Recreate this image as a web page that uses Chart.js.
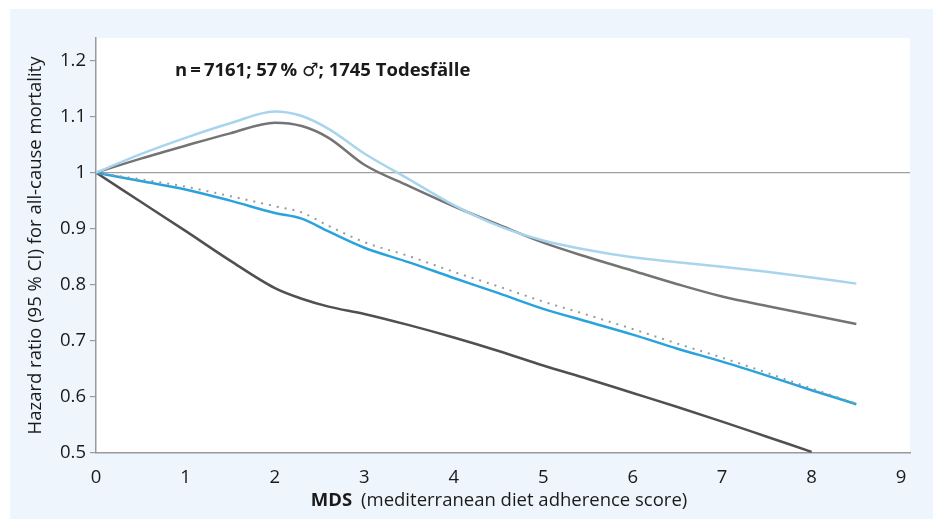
<!DOCTYPE html>
<html>
<head>
<meta charset="utf-8">
<script src="https://cdn.jsdelivr.net/npm/chart.js@4.4.0/dist/chart.umd.min.js"></script>
<style>
  html, body { margin: 0; padding: 0; background: #ffffff; }
  #panel { position: absolute; left: 10px; top: 9px; width: 923px; height: 510px; background: #eef5fc; }
  #chart { display: block; }
</style>
</head>
<body>
<div id="panel"><canvas id="chart" width="923" height="510"></canvas></div>
<script>
// MDS score positions
const mds = [0, 0.5, 1, 1.5, 2, 2.3, 2.6, 3, 3.5, 4, 4.5, 5, 5.5, 6, 6.5, 7, 7.5, 8, 8.5]

// hazard ratios
const upperLight = [1.0, 1.033, 1.062, 1.088, 1.109, 1.101, 1.078, 1.034, 0.988, 0.942, 0.905, 0.879, 0.862, 0.849, 0.84, 0.832, 0.823, 0.813, 0.802]
const upperDark = [1.0, 1.025, 1.048, 1.07, 1.089, 1.083, 1.062, 1.014, 0.976, 0.94, 0.907, 0.875, 0.849, 0.825, 0.801, 0.779, 0.762, 0.746, 0.73]
const estimateDotted = [1.0, 0.988, 0.975, 0.958, 0.94, 0.929, 0.905, 0.876, 0.851, 0.823, 0.797, 0.77, 0.746, 0.721, 0.695, 0.67, 0.643, 0.615, 0.588]
const estimateBlue = [1.0, 0.985, 0.97, 0.95, 0.928, 0.918, 0.895, 0.866, 0.84, 0.812, 0.785, 0.757, 0.734, 0.711, 0.686, 0.663, 0.638, 0.612, 0.587]
const lowerDark = [1.0, 0.948, 0.896, 0.843, 0.794, 0.775, 0.761, 0.748, 0.728, 0.706, 0.682, 0.656, 0.632, 0.607, 0.582, 0.556, 0.529, 0.502, null]

const xTicks = [0, 1, 2, 3, 4, 5, 6, 7, 8, 9]
const yTicks = [0.5, 0.6, 0.7, 0.8, 0.9, 1, 1.1, 1.2]

const noteText = 'n\u2009=\u20097161; 57\u2009% \u2642; 1745 Todesfälle'
const xTitleBold = 'MDS'
const xTitleRest = '(mediterranean diet adherence score)'
const yTitle = 'Hazard ratio (95 % CI) for all-cause mortality'

const FONT = "'Open Sans', 'Noto Sans', 'DejaVu Sans', sans-serif"

function points(ys) {
    return mds.map((x, i) => ({ x: x, y: ys[i] }))
}

function line(data, color, width, dash) {
    return {
        data: points(data),
        borderColor: color,
        borderWidth: width,
        borderDash: dash || [],
        pointRadius: 0,
        fill: false,
        cubicInterpolationMode: 'monotone',
        spanGaps: false
    }
}

const plotBg = {
    id: 'plotBg',
    beforeDraw(chart) {
        const a = chart.chartArea
        const ctx = chart.ctx
        ctx.save()
        ctx.fillStyle = '#ffffff'
        ctx.fillRect(a.left, a.top, a.right - a.left, a.bottom - a.top)
        ctx.restore()
    },
    afterDraw(chart) {
        const ctx = chart.ctx
        ctx.save()
        ctx.fillStyle = '#1a1a1a'
        ctx.textBaseline = 'middle'
        // note inside the plot
        ctx.font = 'bold 18.5px ' + FONT
        ctx.textAlign = 'left'
        ctx.fillText(noteText, 165, 62)
        // x axis title, bold MDS + normal rest
        ctx.font = 'bold 18.5px ' + FONT
        const w1 = ctx.measureText(xTitleBold).width
        ctx.font = '18.5px ' + FONT
        const w2 = ctx.measureText(xTitleRest).width
        const gap = 9
        let x0 = 489 - (w1 + gap + w2) / 2
        ctx.font = 'bold 18.5px ' + FONT
        ctx.fillText(xTitleBold, x0, 492)
        ctx.font = '18.5px ' + FONT
        ctx.fillText(xTitleRest, x0 + w1 + gap, 492)
        ctx.restore()
    }
}

const config = {
    type: 'line',
    data: {
        datasets: [
            line(upperLight, '#a9d4ee', 2.5),
            line(upperDark, '#747474', 2.5),
            line(estimateDotted, '#9a9a9a', 2, [2, 6]),
            line(estimateBlue, '#2aa3dc', 2.5),
            line(lowerDark, '#505050', 2.5)
        ]
    },
    options: {
        responsive: false,
        animation: false,
        layout: { padding: { left: 0, top: 29, right: 23, bottom: 0 } },
        plugins: {
            legend: { display: false },
            tooltip: { enabled: false }
        },
        scales: {
            x: {
                type: 'linear',
                min: 0,
                max: 9.1,
                afterBuildTicks: (scale) => { scale.ticks = xTicks.map(v => ({ value: v })) },
                afterFit: (scale) => { scale.height = 66 },
                grid: { display: false },
                border: { display: true, color: '#9a9a9a', width: 1.5 },
                ticks: {
                    padding: 6,
                    color: '#1a1a1a',
                    font: { family: FONT, size: 18.5 },
                    maxRotation: 0
                }
            },
            y: {
                min: 0.5,
                max: 1.24,
                afterBuildTicks: (scale) => { scale.ticks = yTicks.map(v => ({ value: v })) },
                afterFit: (scale) => { scale.width = 86 },
                grid: {
                    drawOnChartArea: true,
                    drawTicks: true,
                    tickLength: 6,
                    tickColor: '#9a9a9a',
                    lineWidth: 1.2,
                    color: (ctx) => (ctx.tick && ctx.tick.value === 1) ? '#a0a0a0' : 'rgba(0,0,0,0)'
                },
                border: { display: true, color: '#9a9a9a', width: 1.5 },
                ticks: {
                    padding: 4,
                    color: '#1a1a1a',
                    font: { family: FONT, size: 18.5 },
                    callback: (v) => String(Number(v.toFixed(1)))
                },
                title: {
                    display: true,
                    text: yTitle,
                    color: '#1a1a1a',
                    font: { family: FONT, size: 18.5 },
                    padding: { top: 15, bottom: 0 }
                }
            }
        }
    },
    plugins: [plotBg]
}

let ctx = document.getElementById('chart').getContext('2d')
new Chart(ctx, config)
</script>
</body>
</html>
